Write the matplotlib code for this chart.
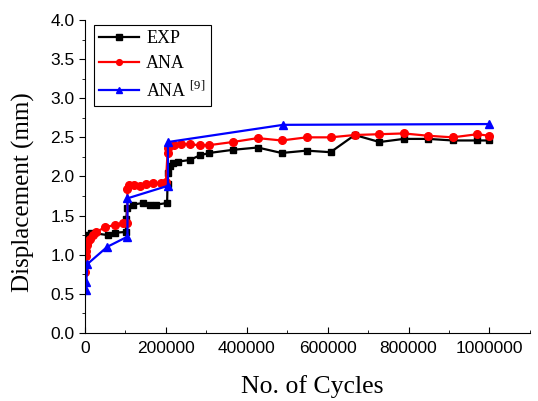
import matplotlib
matplotlib.use('Agg')

import matplotlib.pyplot as plt
from matplotlib.ticker import MultipleLocator

# experimental
exp_x = [0, 15000, 56000, 73000, 101000, 102000, 104000, 118000, 143000, 160000, 176000,
         203000, 204000, 206000, 210000, 218000, 230000, 259000, 284000, 307000, 365000,
         427000, 486000, 548000, 607000, 667000, 728000, 788000, 849000, 909000, 970000, 1000000]
exp_y = [1.25, 1.28, 1.25, 1.28, 1.29, 1.45, 1.60, 1.64, 1.66, 1.64, 1.64,
         1.66, 1.90, 2.04, 2.13, 2.17, 2.19, 2.21, 2.27, 2.30, 2.34,
         2.37, 2.30, 2.33, 2.31, 2.53, 2.44, 2.48, 2.48, 2.46, 2.46, 2.46]

# analytical
ana_x = [0, 1000, 2000, 3000, 5000, 8000, 12000, 20000, 28000, 49000, 74000, 93000,
         104000, 105000, 110000, 122000, 136000, 151000, 167000, 187000, 200000,
         204000, 206000, 221000, 238000, 259000, 284000, 307000, 365000, 427000, 486000,
         548000, 607000, 667000, 728000, 788000, 849000, 909000, 970000, 1000000]
ana_y = [0.78, 0.88, 0.98, 1.05, 1.12, 1.17, 1.20, 1.25, 1.29, 1.35, 1.38, 1.40,
         1.41, 1.84, 1.89, 1.89, 1.88, 1.90, 1.91, 1.92, 1.93,
         2.30, 2.36, 2.40, 2.42, 2.41, 2.40, 2.40, 2.44, 2.49, 2.46,
         2.50, 2.50, 2.53, 2.54, 2.55, 2.52, 2.50, 2.54, 2.52]

# analytical [9]
ref_x = [2000, 3000, 6000, 55000, 105000, 105000, 205000, 205000, 490000, 1000000]
ref_y = [0.55, 0.65, 0.88, 1.10, 1.23, 1.72, 1.88, 2.44, 2.66, 2.67]

plt.rcParams['font.family'] = 'Liberation Sans'
plt.rcParams['mathtext.fontset'] = 'custom'
plt.rcParams['mathtext.rm'] = 'Liberation Serif'

fig = plt.figure(figsize=(5.38, 4.01), dpi=100)
ax = fig.add_axes([0.158, 0.170, 0.827, 0.780])

ax.plot(exp_x, exp_y, color='black', marker='s', markersize=5, linewidth=1.6, label='EXP')
ax.plot(ana_x, ana_y, color='red', marker='o', markersize=5.5, linewidth=1.6, label='ANA')
ax.plot(ref_x, ref_y, color='blue', marker='^', markersize=6, linewidth=1.6,
        label=r'ANA $^{\mathrm{[9]}}$')

ax.set_xlim(0, 1100000)
ax.set_ylim(0, 4.0)
ax.set_xticks([0, 200000, 400000, 600000, 800000, 1000000])
ax.set_xticklabels(['%d' % v for v in ax.get_xticks()])
ax.xaxis.set_minor_locator(MultipleLocator(100000))
ax.set_yticks([0, 0.5, 1.0, 1.5, 2.0, 2.5, 3.0, 3.5, 4.0])
ax.set_yticklabels(['%.1f' % v for v in ax.get_yticks()])
ax.yaxis.set_minor_locator(MultipleLocator(0.25))

ax.spines['top'].set_visible(False)
ax.spines['right'].set_visible(False)
ax.tick_params(axis='x', which='both', direction='in', labelsize=12.5, pad=6)
ax.tick_params(axis='y', which='both', direction='out', labelsize=12.5)
ax.tick_params(which='major', length=4)
ax.tick_params(which='minor', length=2.5)

ax.set_xlabel('No. of Cycles', family='Liberation Serif', fontsize=18.5)
ax.set_ylabel('Displacement (mm)', family='Liberation Serif', fontsize=18)
ax.xaxis.set_label_coords(0.51, -0.135)
ax.yaxis.set_label_coords(-0.112, 0.45)

leg = ax.legend(loc='upper left', bbox_to_anchor=(0.02, 0.985), fancybox=False,
                edgecolor='black', framealpha=1, borderpad=0.3, handlelength=2.2,
                handletextpad=0.4, markerscale=0.75, labelspacing=0.45, borderaxespad=0.0,
                prop={'family': 'Liberation Serif', 'size': 13})
leg.get_frame().set_linewidth(0.8)

plt.savefig('out.png')
